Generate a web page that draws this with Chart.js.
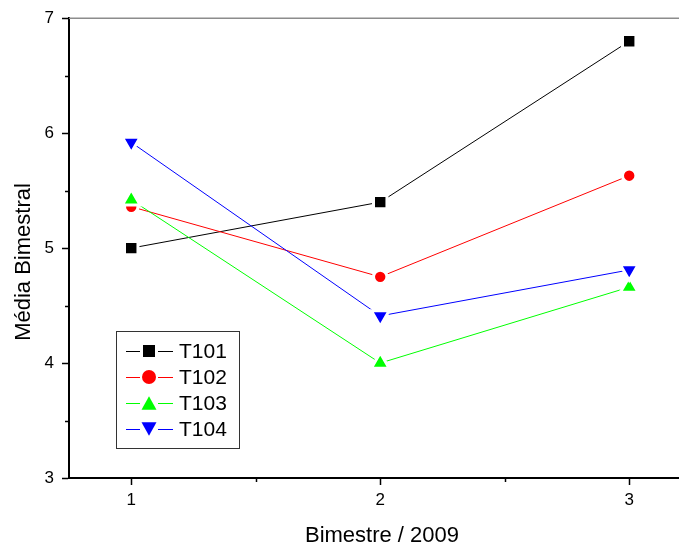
<!DOCTYPE html>
<html>
<head>
<meta charset="utf-8">
<script src="https://cdn.jsdelivr.net/npm/chart.js@4/dist/chart.umd.min.js"></script>
<style>
  html, body { margin: 0; padding: 0; background: #fff; overflow: hidden; }
  canvas { display: block; }
</style>
</head>
<body>
<canvas id="c" width="679" height="545" style="width:679px;height:545px"></canvas>
<script>
const categories = [1, 2, 3];
const seriesNames = ['T101', 'T102', 'T103', 'T104'];
const t101 = [5.00, 5.40, 6.80];
const t102 = [5.36, 4.75, 5.63];
const t103 = [5.42, 4.00, 4.66];
const t104 = [5.92, 4.41, 4.81];
const yTicks = [3, 4, 5, 6, 7];
const yMinor = [3.5, 4.5, 5.5, 6.5];
const xMinor = [1.5, 2.5];
const xTitle = 'Bimestre / 2009';
const yTitle = 'Média Bimestral';

const colors = ['#000000', '#FF0000', '#00FF00', '#0000FF'];
const styles = ['rect', 'circle', 'triangle', 'triangle'];
const rotations = [0, 0, 0, 180];
const radii = [9.5, 6.7, 10.3, 10.3];
const allSeries = [t101, t102, t103, t104];

const FONT = '"Liberation Sans", Arial, sans-serif';

const datasets = allSeries.map((vals, i) => ({
  label: seriesNames[i],
  data: categories.map((c, j) => ({ x: c, y: vals[j] })),
  borderColor: colors[i],
  backgroundColor: colors[i],
  borderWidth: 1,
  pointStyle: styles[i],
  pointRotation: rotations[i],
  pointRadius: radii[i],
  pointBackgroundColor: colors[i],
  pointBorderColor: '#ffffff',
  pointBorderWidth: 3,
  tension: 0,
  order: 3 - i
}));

function drawMarker(ctx, style, rot, cx, cy, size) {
  ctx.beginPath();
  if (style === 'rect') {
    ctx.rect(cx - size / 2, cy - size / 2, size, size);
  } else if (style === 'circle') {
    ctx.arc(cx, cy, size / 2, 0, Math.PI * 2);
  } else {
    const h = size * 0.9, w = size;
    if (rot === 180) {
      ctx.moveTo(cx - w / 2, cy - h / 2);
      ctx.lineTo(cx + w / 2, cy - h / 2);
      ctx.lineTo(cx, cy + h / 2);
    } else {
      ctx.moveTo(cx - w / 2, cy + h / 2);
      ctx.lineTo(cx + w / 2, cy + h / 2);
      ctx.lineTo(cx, cy - h / 2);
    }
    ctx.closePath();
  }
  ctx.fill();
}

const extras = {
  id: 'extras',
  afterDraw(chart) {
    const { ctx, chartArea: a, scales: { x, y } } = chart;
    ctx.save();
    ctx.strokeStyle = '#8c8c8c';
    ctx.lineWidth = 1.5;
    ctx.beginPath();
    ctx.moveTo(a.left, a.top);
    ctx.lineTo(chart.width, a.top);
    ctx.stroke();
    ctx.strokeStyle = '#000';
    ctx.lineWidth = 1.5;
    yMinor.forEach(v => {
      const py = Math.round(y.getPixelForValue(v)) + 0.5;
      ctx.beginPath(); ctx.moveTo(a.left - 4, py); ctx.lineTo(a.left, py); ctx.stroke();
    });
    xMinor.forEach(v => {
      const px = Math.round(x.getPixelForValue(v)) + 0.5;
      ctx.beginPath(); ctx.moveTo(px, a.bottom); ctx.lineTo(px, a.bottom + 4); ctx.stroke();
    });
    ctx.fillStyle = '#000';
    ctx.font = '22px ' + FONT;
    ctx.textAlign = 'center';
    ctx.textBaseline = 'alphabetic';
    ctx.fillText(xTitle, 382, 542);
    ctx.save();
    ctx.translate(30, 262);
    ctx.rotate(-Math.PI / 2);
    ctx.fillText(yTitle, 0, 0);
    ctx.restore();
    const lx = 116.5, ly = 331.5, lw = 123, lh = 117;
    ctx.fillStyle = '#fff';
    ctx.fillRect(lx, ly, lw, lh);
    ctx.strokeStyle = '#333';
    ctx.lineWidth = 1;
    ctx.strokeRect(lx, ly, lw, lh);
    const itemY = [351, 377, 403, 429];
    const sizes = [12, 14, 15, 15];
    chart.data.datasets.forEach((ds, i) => {
      const cy = itemY[i];
      ctx.strokeStyle = ds.borderColor;
      ctx.lineWidth = 1;
      ctx.beginPath();
      ctx.moveTo(126, cy + 0.5); ctx.lineTo(140, cy + 0.5);
      ctx.moveTo(158, cy + 0.5); ctx.lineTo(173, cy + 0.5);
      ctx.stroke();
      ctx.fillStyle = ds.pointBackgroundColor;
      drawMarker(ctx, ds.pointStyle, ds.pointRotation, 149, cy, sizes[i]);
      ctx.fillStyle = '#000';
      ctx.font = '21px ' + FONT;
      ctx.textAlign = 'left';
      ctx.textBaseline = 'middle';
      ctx.fillText(ds.label, 179, cy + 1);
    });
    ctx.restore();
  }
};

new Chart(document.getElementById('c'), {
  type: 'line',
  data: { datasets },
  options: {
    responsive: false,
    maintainAspectRatio: false,
    animation: false,
    events: [],
    layout: { autoPadding: false, padding: { top: 17, left: 0, right: 0, bottom: 0 } },
    plugins: { legend: { display: false }, tooltip: { enabled: false }, title: { display: false } },
    scales: {
      x: {
        type: 'linear',
        min: 0.75,
        max: 3.2,
        afterFit(s) { s.height = 67; },
        afterBuildTicks(s) { s.ticks = categories.map(v => ({ value: v })); },
        ticks: { stepSize: 1, includeBounds: false, color: '#000', font: { family: FONT, size: 17 }, padding: 5, maxRotation: 0 },
        grid: { drawOnChartArea: false, drawTicks: true, tickLength: 7, tickColor: '#000', tickWidth: 1.5 },
        border: { display: true, color: '#000', width: 2 }
      },
      y: {
        type: 'linear',
        min: 3,
        max: 7,
        afterFit(s) { s.width = 69; },
        afterBuildTicks(s) { s.ticks = yTicks.map(v => ({ value: v })); },
        ticks: { stepSize: 1, color: '#000', font: { family: FONT, size: 17 }, padding: 8 },
        grid: { drawOnChartArea: false, drawTicks: true, tickLength: 7, tickColor: '#000', tickWidth: 1.5 },
        border: { display: true, color: '#000', width: 2 }
      }
    }
  },
  plugins: [extras]
});
</script>
</body>
</html>
